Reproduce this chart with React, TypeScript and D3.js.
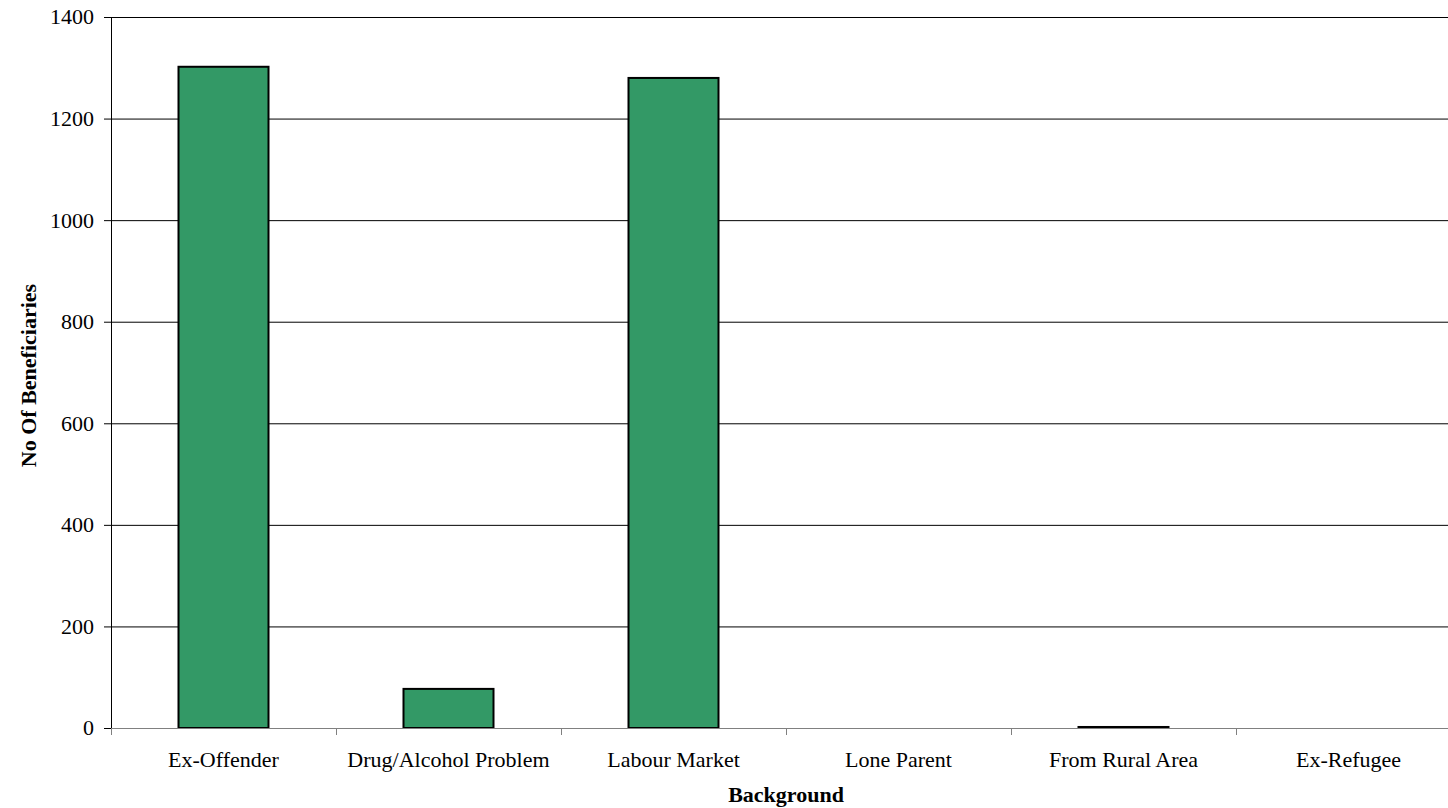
import React from "react";
import * as d3 from "d3";

const categories = ["Ex-Offender", "Drug/Alcohol Problem", "Labour Market", "Lone Parent", "From Rural Area", "Ex-Refugee"];
const values = [1302, 77, 1280, 0, 2, 0];
const yTicks = [0, 200, 400, 600, 800, 1000, 1200, 1400];

export default function App() {
  const W = 1448, H = 808;
  const left = 111, right = 1461, top = 17, bottom = 728;
  const x = d3.scaleBand<string>().domain(categories).range([left, right]).paddingInner(0).paddingOuter(0);
  const y = d3.scaleLinear().domain([0, 1400]).range([bottom, top]);
  const bw = x.bandwidth();
  const font = "'Liberation Serif', 'Times New Roman', serif";
  const fs = 22;
  return (
    <svg width={W} height={H} style={{ position: "absolute", left: 0, top: 0, background: "#fff" }}>
      {yTicks.map((t) => (
        <g key={t}>
          {t > 0 && <line x1={left} x2={right} y1={y(t) + 0.5} y2={y(t) + 0.5} stroke="#000" strokeWidth={1} />}
          <line x1={left - 7} x2={left} y1={y(t) + 0.5} y2={y(t) + 0.5} stroke="#000" strokeWidth={1} />
          <text x={left - 17} y={y(t)} dy="0.34em" textAnchor="end" fontFamily={font} fontSize={fs} fill="#000">{t}</text>
        </g>
      ))}
      <line x1={left + 0.5} x2={left + 0.5} y1={top} y2={bottom} stroke="#000" strokeWidth={1} />
      {categories.map((c, i) => {
        const x0 = (x(c) as number) + bw * 0.3;
        const h = bottom - y(values[i]);
        return (
          <rect key={c} x={x0} y={y(values[i])} width={bw * 0.4} height={h} fill="#339966" stroke="#000" strokeWidth={2} />
        );
      })}
      <line x1={left} x2={right} y1={bottom + 0.5} y2={bottom + 0.5} stroke="#808080" strokeWidth={1} />
      {categories.map((c, i) => (
        <g key={c}>
          <line x1={(x(c) as number) + 0.5} x2={(x(c) as number) + 0.5} y1={bottom} y2={bottom + 7} stroke="#808080" strokeWidth={1} />
          <text x={(x(c) as number) + bw / 2} y={767} textAnchor="middle" fontFamily={font} fontSize={fs} fill="#000">{c}</text>
        </g>
      ))}
      <text x={786} y={802} textAnchor="middle" fontFamily={font} fontSize={fs} fontWeight="bold" fill="#000">Background</text>
      <text transform={`translate(36, ${(top + bottom) / 2 + 3}) rotate(-90)`} textAnchor="middle" fontFamily={font} fontSize={fs} fontWeight="bold" fill="#000">No Of Beneficiaries</text>
    </svg>
  );
}
